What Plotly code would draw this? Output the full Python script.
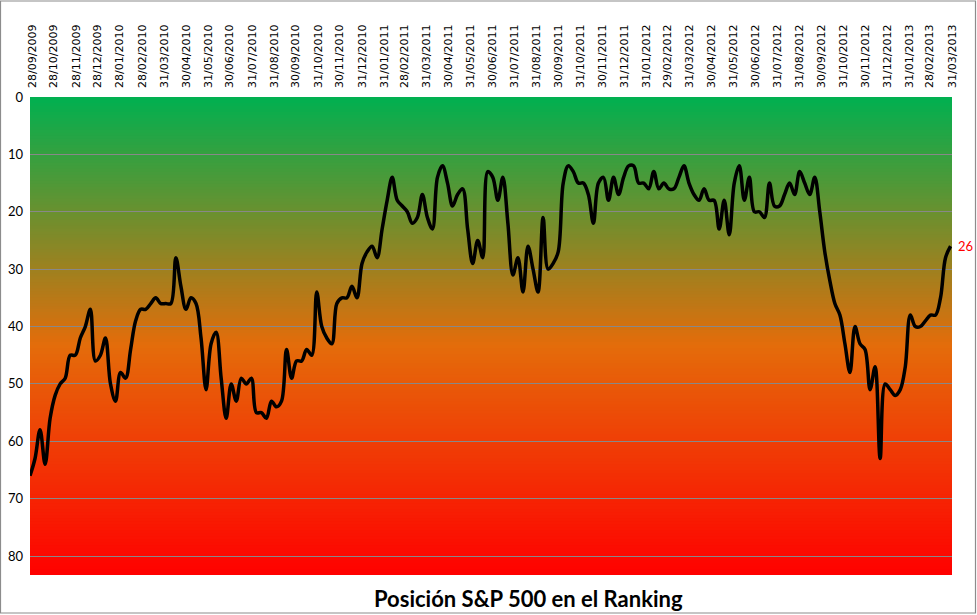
import pandas as pd
import plotly.graph_objects as go

# ---- data (weekly ranking position of the S&P 500) ----
start_date = "2009-09-25"
ranking = [
    66, 63, 58, 64, 56, 52, 50, 49, 45, 45,
    42, 40, 37, 46, 45, 42, 50, 53, 48, 49,
    44, 39, 37, 37, 36, 35, 36, 36, 36, 28,
    33, 37, 35, 36, 42, 51, 43, 41, 49, 56,
    50, 53, 49, 50, 49, 55, 55, 56, 53, 54,
    53, 44, 49, 46, 46, 44, 45, 34, 40, 42,
    43, 36, 35, 35, 33, 35, 29, 27, 26, 28,
    23, 18, 14, 18, 19, 20, 22, 21, 17, 21,
    23, 14, 12, 15, 19, 17, 16, 23, 29, 25,
    28, 13, 14, 18, 14, 22, 31, 28, 34, 26,
    30, 34, 21, 30, 29, 27, 15, 12, 13, 15,
    15, 17, 22, 15, 14, 18, 14, 17, 14, 12,
    12, 15, 15, 16, 13, 16, 15, 16, 16, 14,
    12, 15, 17, 18, 16, 18, 18, 23, 18, 24,
    15, 12, 18, 14, 20, 20, 21, 15, 19, 19,
    17, 15, 17, 13, 15, 17, 14, 20, 27, 32,
    36, 38, 43, 48, 40, 43, 44, 51, 47, 63,
    50, 51, 52, 51, 47, 38, 40, 40, 39, 38,
    38, 35, 28, 26,
]
dates = pd.date_range(start_date, periods=len(ranking), freq="7D")

tick_labels = [
    "28/09/2009", "28/10/2009", "28/11/2009", "28/12/2009", "28/01/2010",
    "28/02/2010", "31/03/2010", "30/04/2010", "31/05/2010", "30/06/2010",
    "31/07/2010", "31/08/2010", "30/09/2010", "31/10/2010", "30/11/2010",
    "31/12/2010", "31/01/2011", "28/02/2011", "31/03/2011", "30/04/2011",
    "31/05/2011", "30/06/2011", "31/07/2011", "31/08/2011", "30/09/2011",
    "31/10/2011", "30/11/2011", "31/12/2011", "31/01/2012", "29/02/2012",
    "31/03/2012", "30/04/2012", "31/05/2012", "30/06/2012", "31/07/2012",
    "31/08/2012", "30/09/2012", "31/10/2012", "30/11/2012", "31/12/2012",
    "31/01/2013", "28/02/2013", "31/03/2013",
]
tick_dates = pd.to_datetime(tick_labels, format="%d/%m/%Y")
y_ticks = [0, 10, 20, 30, 40, 50, 60, 70, 80]
title_text = "Posición S&P 500 en el Ranking"

# ---- figure ----
fig = go.Figure()
fig.add_trace(go.Scatter(
    x=dates, y=ranking, mode="lines",
    line=dict(color="black", width=3.5, shape="spline", smoothing=1.0),
    hoverinfo="x+y", showlegend=False,
))

# vertical gradient background: green (top) -> orange -> red (bottom)
stops = [(0.0, (0, 176, 80)), (0.52, (228, 108, 10)), (1.0, (255, 0, 0))]

def color_at(t):
    for (t0, c0), (t1, c1) in zip(stops[:-1], stops[1:]):
        if t <= t1:
            f = (t - t0) / (t1 - t0)
            return "rgb(%d,%d,%d)" % tuple(round(a + (b - a) * f) for a, b in zip(c0, c1))
    return "rgb(%d,%d,%d)" % stops[-1][1]

N = 160
shapes = []
for k in range(N):
    shapes.append(dict(
        type="rect", xref="x domain", yref="y domain", layer="below",
        x0=0, x1=1, y0=max(0, 1 - (k + 2.5) / N), y1=1 - k / N,
        fillcolor=color_at((k + 0.5) / N), line=dict(width=0),
    ))
# outer chart border
shapes.append(dict(
    type="rect", xref="paper", yref="paper", layer="above",
    x0=-29.5 / 922, x1=945.5 / 922,
    y0=-(613 - 575) / 478, y1=1 + (97 - 1) / 478,
    line=dict(color="#8c8c8c", width=1.2), fillcolor="rgba(0,0,0,0)",
))

fig.update_layout(
    width=977, height=615,
    margin=dict(l=30, r=25, t=97, b=40, autoexpand=False),
    paper_bgcolor="white", plot_bgcolor="rgba(0,0,0,0)",
    shapes=shapes,
    xaxis=dict(
        type="date", side="top", automargin=False,
        range=["2009-09-25", "2013-03-31"],
        tickmode="array", tickvals=tick_dates, ticktext=tick_labels,
        tickangle=-90, ticks="", showgrid=False, zeroline=False,
        showline=False, ticklabelstandoff=8,
        tickfont=dict(family="DejaVu Sans", size=11, color="black"),
    ),
    yaxis=dict(
        range=[83.3, 0], tickvals=y_ticks, ticks="", automargin=False,
        showgrid=True, gridcolor="#888888", gridwidth=1,
        zeroline=False, showline=False, ticklabelstandoff=6,
        tickfont=dict(family="Lato", size=13, color="black"),
    ),
    annotations=[
        dict(
            x=dates[-1], y=ranking[-1], xref="x", yref="y",
            text=str(ranking[-1]), showarrow=False,
            xanchor="left", yanchor="middle", xshift=5,
            font=dict(family="Lato", size=13, color="red"),
        ),
        dict(
            x=(528 - 30) / 922, y=-(598 - 575) / 478, xref="paper", yref="paper",
            text="<b>" + title_text + "</b>", showarrow=False,
            xanchor="center", yanchor="middle",
            font=dict(family="Lato", size=22, color="black"),
        ),
    ],
)

fig.write_html(
    "out.html",
    config={"displayModeBar": False},
    post_script="document.body.style.margin='0';document.body.style.padding='0';"
                "document.body.style.overflow='hidden';",
)
